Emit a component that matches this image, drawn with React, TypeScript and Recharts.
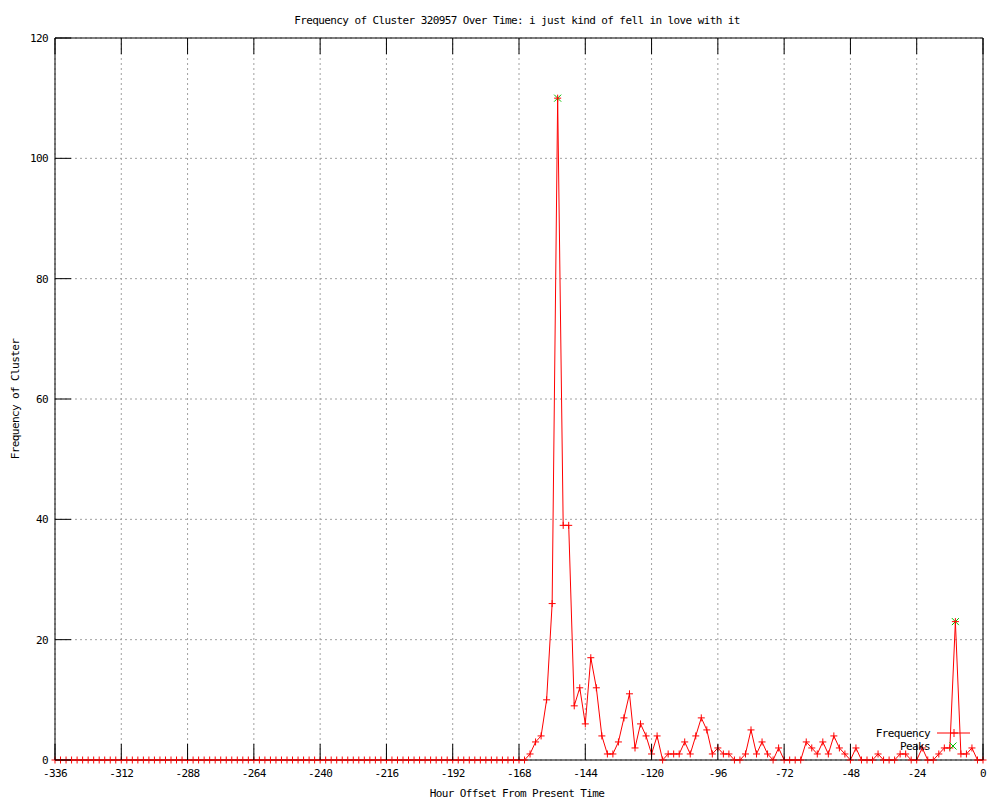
import React from "react";
import {
  ComposedChart,
  Line,
  Scatter,
  XAxis,
  YAxis,
  CartesianGrid,
  Legend,
} from "recharts";

// hourly offsets, one sample every 2 hours from -336 to 0
const hours = Array.from({ length: 169 }, (_, i) => -336 + i * 2);

// frequency per sample (left to right)
const frequency = [
  0, 0, 0, 0, 0, 0, 0, 0, 0, 0,
  0, 0, 0, 0, 0, 0, 0, 0, 0, 0,
  0, 0, 0, 0, 0, 0, 0, 0, 0, 0,
  0, 0, 0, 0, 0, 0, 0, 0, 0, 0,
  0, 0, 0, 0, 0, 0, 0, 0, 0, 0,
  0, 0, 0, 0, 0, 0, 0, 0, 0, 0,
  0, 0, 0, 0, 0, 0, 0, 0, 0, 0,
  0, 0, 0, 0, 0, 0, 0, 0, 0, 0,
  0, 0, 0, 0, 0,
  // -166 .. 0
  0, 1, 3, 4, 10, 26, 110, 39, 39, 9,
  12, 6, 17, 12, 4, 1, 1, 3, 7, 11,
  2, 6, 4, 1, 4, 0, 1, 1, 1, 3,
  1, 4, 7, 5, 1, 2, 1, 1, 0, 0,
  1, 5, 1, 3, 1, 0, 2, 0, 0, 0,
  0, 3, 2, 1, 3, 1, 4, 2, 1, 0,
  2, 0, 0, 0, 1, 0, 0, 0, 1, 1,
  0, 0, 2, 0, 0, 1, 2, 2, 23, 1,
  1, 2, 0, 0,
];

const peakHours = [-154, -10];
const peakValues = [110, 23];

const xTicks = [-336, -312, -288, -264, -240, -216, -192, -168, -144, -120, -96, -72, -48, -24, 0];
const yTicks = [0, 20, 40, 60, 80, 100, 120];

const title = "Frequency of Cluster 320957 Over Time: i just kind of fell in love with it";
const xLabel = "Hour Offset From Present Time";
const yLabel = "Frequency of Cluster";

const chartData = hours.map((hour, i) => ({ hour, frequency: frequency[i] }));
const peakData = peakHours.map((hour, i) => ({ hour, value: peakValues[i] }));

const RED = "#ff0000";
const GREEN = "#00c000";
const textStyle: React.CSSProperties = {
  fontFamily: '"DejaVu Sans Mono", monospace',
  fontSize: 11,
  letterSpacing: -0.6,
  fill: "#000",
};
const TICK_LEN = 16;

const BottomTick = (props: any) => {
  const { x, y, payload } = props;
  return (
    <g>
      <line x1={x} y1={y} x2={x} y2={y - TICK_LEN} stroke="#000" />
      <text x={x} y={y + 17} textAnchor="middle" style={textStyle}>
        {payload.value}
      </text>
    </g>
  );
};

const TopTick = (props: any) => {
  const { x, y } = props;
  return <line x1={x} y1={y} x2={x} y2={y + TICK_LEN} stroke="#000" />;
};

const LeftTick = (props: any) => {
  const { x, y, payload } = props;
  return (
    <g>
      <line x1={x} y1={y} x2={x + TICK_LEN} y2={y} stroke="#000" />
      <text x={x - 7} y={y + 4} textAnchor="end" style={textStyle}>
        {payload.value}
      </text>
    </g>
  );
};

const RightTick = (props: any) => {
  const { x, y } = props;
  return <line x1={x} y1={y} x2={x - TICK_LEN} y2={y} stroke="#000" />;
};

const plusPath = (cx: number, cy: number, r = 3.5) =>
  `M${cx - r},${cy}H${cx + r}M${cx},${cy - r}V${cy + r}`;
const crossPath = (cx: number, cy: number, r = 3.5) =>
  `M${cx - r},${cy - r}L${cx + r},${cy + r}M${cx - r},${cy + r}L${cx + r},${cy - r}`;

const renderPlus = (props: any) => {
  const { cx, cy, index } = props;
  return <path key={`p-${index}`} d={plusPath(cx, cy)} stroke={RED} strokeWidth={1} fill="none" />;
};

const renderCross = (props: any) => {
  const { cx, cy } = props;
  return <path d={crossPath(cx, cy)} stroke={GREEN} strokeWidth={1} fill="none" />;
};

const LegendBox = () => (
  <svg width={130} height={34}>
    <text x={70} y={15} textAnchor="end" style={textStyle}>
      Frequency
    </text>
    <line x1={77} y1={11} x2={110} y2={11} stroke={RED} />
    <path d={plusPath(94, 11, 4)} stroke={RED} fill="none" />
    <text x={70} y={28} textAnchor="end" style={textStyle}>
      Peaks
    </text>
    <path d={crossPath(93, 24)} stroke={GREEN} fill="none" />
  </svg>
);

export default function App() {
  return (
    <div style={{ position: "relative", width: 1000, height: 800, margin: "-8px 0 0 -8px", background: "#fff" }}>
      <ComposedChart width={1000} height={800} data={chartData} margin={{ top: 0, right: 0, bottom: 0, left: 0 }}>
        <CartesianGrid stroke="#a0a0a0" strokeDasharray="2 3" />
        <Line
          type="linear"
          dataKey="frequency"
          stroke={RED}
          strokeWidth={1}
          dot={renderPlus}
          activeDot={false}
          isAnimationActive={false}
        />
        <Scatter data={peakData} dataKey="value" shape={renderCross} isAnimationActive={false} />
        <XAxis
          dataKey="hour"
          type="number"
          domain={[-336, 0]}
          ticks={xTicks}
          height={40}
          tickSize={0}
          tickMargin={0}
          tickLine={false}
          tick={BottomTick}
          axisLine={{ stroke: "#000" }}
          interval={0}
        />
        <XAxis
          xAxisId="top"
          orientation="top"
          dataKey="hour"
          type="number"
          domain={[-336, 0]}
          ticks={xTicks}
          height={38}
          tickSize={0}
          tickMargin={0}
          tickLine={false}
          tick={TopTick}
          axisLine={{ stroke: "#000" }}
          interval={0}
        />
        <YAxis
          type="number"
          domain={[0, 120]}
          ticks={yTicks}
          width={55}
          tickSize={0}
          tickMargin={0}
          tickLine={false}
          tick={LeftTick}
          axisLine={{ stroke: "#000" }}
          interval={0}
        />
        <YAxis
          yAxisId="right"
          orientation="right"
          type="number"
          domain={[0, 120]}
          ticks={yTicks}
          width={17}
          tickSize={0}
          tickMargin={0}
          tickLine={false}
          tick={RightTick}
          axisLine={{ stroke: "#000" }}
          interval={0}
        />
        <Legend
          layout="horizontal"
          verticalAlign="middle"
          align="center"
          wrapperStyle={{ left: 860, top: 722, width: 130, height: 34 }}
          content={() => <LegendBox />}
        />
      </ComposedChart>
      <svg
        width={1000}
        height={800}
        style={{ position: "absolute", left: 0, top: 0, pointerEvents: "none" }}
      >
        <text x={517} y={23.5} textAnchor="middle" style={textStyle}>
          {title}
        </text>
        <text x={517} y={797} textAnchor="middle" style={textStyle}>
          {xLabel}
        </text>
        <text x={19} y={399} textAnchor="middle" transform="rotate(-90 19 399)" style={textStyle}>
          {yLabel}
        </text>
      </svg>
    </div>
  );
}
